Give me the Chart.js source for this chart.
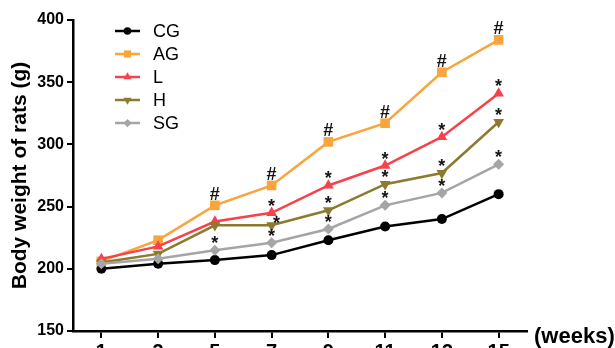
<!DOCTYPE html>
<html>
<head>
<meta charset="utf-8">
<script src="https://cdn.jsdelivr.net/npm/chart.js@4.4.1/dist/chart.umd.min.js"></script>
<style>
  html, body { margin: 0; padding: 0; background: #fff; }
  #wrap { width: 615px; height: 348px; }
</style>
</head>
<body>
<div id="wrap"><canvas id="c" width="615" height="348"></canvas></div>
<script>
// Study weeks on the x axis
const weeks = [1, 3, 5, 7, 9, 11, 13, 15];

// Mean body weight (g) per group
const cgWeight = [200, 204, 207, 211, 223, 234, 240, 260];
const agWeight = [206, 223, 251, 267, 302, 317, 358, 384];
const lWeight  = [208, 218, 238, 245, 267, 283, 306, 341];
const hWeight  = [205, 212, 235, 235, 247, 268, 277, 318];
const sgWeight = [204, 208, 215, 221, 232, 251, 261, 284];

// Weeks carrying significance marks
const hashWeeksAG = [5, 7, 9, 11, 13, 15];
const starWeeksL  = [7, 9, 11, 13, 15];
const starWeeksH  = [7, 9, 11, 13, 15];
const starWeeksSG = [5, 7, 9, 11, 13, 15];

const FONT = "'Liberation Sans', Arial, Helvetica, sans-serif";

const series = [
  { label: 'CG', values: cgWeight, color: '#000000', style: 'circle',   radius: 5,   rotation: 0 },
  { label: 'AG', values: agWeight, color: '#F9A43C', style: 'rect',     radius: 6.8, rotation: 0 },
  { label: 'L',  values: lWeight,  color: '#F5424B', style: 'triangle', radius: 6.2, rotation: 0 },
  { label: 'H',  values: hWeight,  color: '#8C7A30', style: 'triangle', radius: 6.2, rotation: 180 },
  { label: 'SG', values: sgWeight, color: '#A5A5A8', style: 'rectRot',  radius: 5.5, rotation: 0 }
];

const datasets = series.map((s, k) => ({
  label: s.label,
  data: weeks.map((w, i) => ({ x: w, y: s.values[i] })),
  borderColor: s.color,
  backgroundColor: s.color,
  borderWidth: 2.5,
  pointStyle: s.style,
  pointRotation: s.rotation,
  pointRadius: s.radius,
  pointBorderWidth: 0,
  pointBackgroundColor: s.color,
  tension: 0,
  order: series.length - k
}));

// Significance marks: '#' vs CG for AG, '*' vs AG for the treated groups
const markGroups = [
  { sym: '#', values: agWeight, weeks: hashWeeksAG },
  { sym: '*', values: lWeight,  weeks: starWeeksL },
  { sym: '*', values: hWeight,  weeks: starWeeksH, nudge: { 7: [5, 5] } },
  { sym: '*', values: sgWeight, weeks: starWeeksSG }
];

const decorPlugin = {
  id: 'decor',
  afterDatasetsDraw(chart) {
    const ctx = chart.ctx;
    const xs = chart.scales.x, ys = chart.scales.y;
    ctx.save();
    ctx.fillStyle = '#151515';
    ctx.textAlign = 'center';
    ctx.textBaseline = 'alphabetic';
    markGroups.forEach(g => {
      g.weeks.forEach(w => {
        const i = weeks.indexOf(w);
        let px = xs.getPixelForValue(w);
        let py = ys.getPixelForValue(g.values[i]);
        const n = g.nudge && g.nudge[w];
        if (n) { px += n[0]; py += n[1]; }
        if (g.sym === '#') {
          ctx.font = 'bold 18px ' + FONT;
          ctx.fillText('#', px, py - 5.5);
        } else {
          ctx.font = 'bold 18px ' + FONT;
          ctx.fillText('*', px, py - 1);
        }
      });
    });

    // Legend: line segment with marker, then the group name
    const lx0 = 115, lx1 = 140, tx = 153;
    series.forEach((s, k) => {
      const y = 31 + k * 23;
      ctx.strokeStyle = s.color;
      ctx.fillStyle = s.color;
      ctx.lineWidth = 2.5;
      ctx.beginPath();
      ctx.moveTo(lx0, y);
      ctx.lineTo(lx1, y);
      ctx.stroke();
      Chart.helpers.drawPoint(ctx, {
        pointStyle: s.style,
        radius: s.radius * 0.75,
        rotation: s.rotation,
        borderWidth: 0
      }, (lx0 + lx1) / 2, y);
      ctx.fillStyle = '#000';
      ctx.font = '18px ' + FONT;
      ctx.textAlign = 'left';
      ctx.textBaseline = 'middle';
      ctx.fillText(s.label, tx, y + 1);
    });

    // Unit label at the end of the x axis
    ctx.fillStyle = '#000';
    ctx.font = 'bold 22px ' + FONT;
    ctx.textAlign = 'left';
    ctx.textBaseline = 'middle';
    ctx.fillText('(weeks)', 534, 337);
    ctx.restore();
  }
};

new Chart(document.getElementById('c'), {
  type: 'line',
  data: { datasets },
  options: {
    responsive: false,
    devicePixelRatio: 1,
    animation: false,
    layout: { padding: { top: 20, right: 88, left: 0, bottom: 0 } },
    plugins: { legend: { display: false }, tooltip: { enabled: false } },
    scales: {
      x: {
        type: 'linear',
        min: 0,
        max: 16,
        afterBuildTicks: s => { s.ticks = weeks.map(v => ({ value: v })); },
        afterFit: s => { s.height = 17; },
        ticks: {
          color: '#000',
          font: { family: FONT, size: 20, weight: 'bold' },
          padding: 2,
          autoSkip: false,
          maxRotation: 0
        },
        grid: { drawOnChartArea: false, drawTicks: true, tickLength: 7, color: '#000', lineWidth: 2 },
        border: { color: '#000', width: 2.5 }
      },
      y: {
        min: 150,
        max: 400,
        afterFit: s => { s.width = 73; },
        ticks: {
          stepSize: 50,
          color: '#000',
          font: { family: FONT, size: 16, weight: 'bold' },
          padding: 3
        },
        grid: { drawOnChartArea: false, drawTicks: true, tickLength: 6, color: '#000', lineWidth: 2 },
        border: { color: '#000', width: 2.5 },
        title: {
          display: true,
          text: 'Body weight of rats (g)',
          color: '#000',
          font: { family: FONT, size: 21, weight: 'bold' },
          padding: { top: 8, bottom: 0 }
        }
      }
    }
  },
  plugins: [decorPlugin]
});
</script>
</body>
</html>
